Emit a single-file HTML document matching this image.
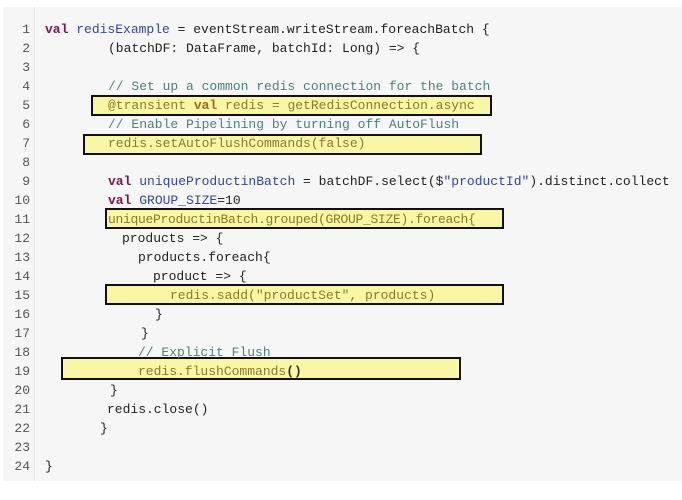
<!DOCTYPE html>
<html><head><style>
body{margin:0;width:682px;height:500px;background:#fff;position:relative;overflow:hidden;font-family:"Liberation Mono","DejaVu Sans Mono",monospace;}
#panel{position:absolute;left:3px;top:7px;width:679px;height:474px;background:#f6f6f6;}
#gut{position:absolute;left:34px;top:7px;width:1px;height:474px;background:#e2e2e2;}
.n{position:absolute;width:26px;text-align:right;left:4px;font-size:13px;color:#555;line-height:19px;}
.l{position:absolute;font-size:13px;line-height:19px;color:#222;white-space:pre;}
.k{color:#7d1650;font-weight:bold}
.v{color:#3246a8}
.c{color:#4f8080}
.s{color:#3246a8}
.y{color:#8a7a2e}
.yk{color:#a06a1c;font-weight:bold}
.box{position:absolute;background:#f9f6a6;border:2px solid #111;box-sizing:border-box;}
</style></head><body>
<div id="panel"></div><div id="gut"></div>
<div class="box" style="left:91px;top:95px;width:401px;height:21px"></div>
<div class="box" style="left:83px;top:134px;width:399px;height:21px"></div>
<div class="box" style="left:105px;top:208px;width:399px;height:21px"></div>
<div class="box" style="left:105px;top:284px;width:399px;height:21px"></div>
<div class="box" style="left:61px;top:357px;width:400px;height:23px"></div>

<div class="n" style="top:20px">1</div>
<div class="n" style="top:39px">2</div>
<div class="n" style="top:58px">3</div>
<div class="n" style="top:77px">4</div>
<div class="n" style="top:96px">5</div>
<div class="n" style="top:115px">6</div>
<div class="n" style="top:134px">7</div>
<div class="n" style="top:153px">8</div>
<div class="n" style="top:172px">9</div>
<div class="n" style="top:191px">10</div>
<div class="n" style="top:210px">11</div>
<div class="n" style="top:229px">12</div>
<div class="n" style="top:248px">13</div>
<div class="n" style="top:267px">14</div>
<div class="n" style="top:286px">15</div>
<div class="n" style="top:305px">16</div>
<div class="n" style="top:324px">17</div>
<div class="n" style="top:343px">18</div>
<div class="n" style="top:362px">19</div>
<div class="n" style="top:381px">20</div>
<div class="n" style="top:400px">21</div>
<div class="n" style="top:419px">22</div>
<div class="n" style="top:438px">23</div>
<div class="n" style="top:457px">24</div>

<div class="l" style="left:45px;top:20px"><span class="k">val</span> <span class="v">redisExample</span> = eventStream.writeStream.foreachBatch {</div>
<div class="l" style="left:108px;top:39px">(batchDF: DataFrame, batchId: Long) =&gt; {</div>
<div class="l c" style="left:108px;top:77px">// Set up a common redis connection for the batch</div>
<div class="l y" style="left:108px;top:96px">@transient <span class="yk">val</span> redis = getRedisConnection.async</div>
<div class="l c" style="left:108px;top:115px">// Enable Pipelining by turning off AutoFlush</div>
<div class="l y" style="left:108px;top:134px">redis.setAutoFlushCommands(false)</div>
<div class="l" style="left:108px;top:172px"><span class="k">val</span> <span class="v">uniqueProductinBatch</span> = batchDF.select($<span class="s">"productId"</span>).distinct.collect</div>
<div class="l" style="left:108px;top:191px"><span class="k">val</span> <span class="v">GROUP_SIZE</span>=10</div>
<div class="l y" style="left:108px;top:210px;letter-spacing:-0.3px">uniqueProductinBatch.grouped(GROUP_SIZE).foreach{</div>
<div class="l" style="left:122px;top:229px">products =&gt; {</div>
<div class="l" style="left:138px;top:248px">products.foreach{</div>
<div class="l" style="left:153px;top:267px">product =&gt; {</div>
<div class="l y" style="left:170px;top:286px">redis.sadd("productSet", products)</div>
<div class="l" style="left:155px;top:305px">}</div>
<div class="l" style="left:141px;top:324px">}</div>
<div class="l c" style="left:138px;top:343px">// Explicit Flush</div>
<div class="l y" style="left:138px;top:362px">redis.flushCommands<b style="color:#333">()</b></div>
<div class="l" style="left:110px;top:381px">}</div>
<div class="l" style="left:107px;top:400px">redis.close()</div>
<div class="l" style="left:100px;top:419px">}</div>
<div class="l" style="left:45px;top:457px">}</div>
</body></html>
